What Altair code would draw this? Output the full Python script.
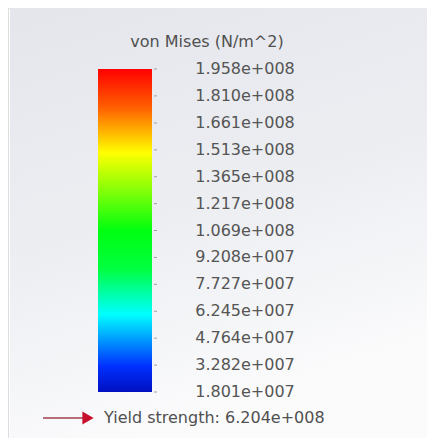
import altair as alt
import pandas as pd

# ---- data ----
title_text = "von Mises (N/m^2)"
tick_values = [1.958e8, 1.810e8, 1.661e8, 1.513e8, 1.365e8, 1.217e8, 1.069e8,
               9.208e7, 7.727e7, 6.245e7, 4.764e7, 3.282e7, 1.801e7]
tick_labels = ["1.958e+008", "1.810e+008", "1.661e+008", "1.513e+008", "1.365e+008",
               "1.217e+008", "1.069e+008", "9.208e+007", "7.727e+007", "6.245e+007",
               "4.764e+007", "3.282e+007", "1.801e+007"]
yield_text = "Yield strength: 6.204e+008"
vmin, vmax = 1.801e7, 1.958e8

# gradient stops (top -> bottom)
stop_offsets = [0.0, 0.12, 0.26, 0.50, 0.62, 0.76, 0.92, 1.0]
stop_colors = ["#ff0000", "#ff6000", "#ffff00", "#00ff10", "#00ff40", "#00ffff", "#0030ff", "#0010c0"]

W, H = 419, 430
yscale = alt.Scale(domain=[vmin, vmax], range=[384, 61])

ticks_df = pd.DataFrame({"v": tick_values, "label": tick_labels})
bar_df = pd.DataFrame({"lo": [vmin], "hi": [vmax]})
one = pd.DataFrame({"a": [0]})

bg = alt.Chart(one).mark_rect(
    fill=alt.LinearGradient(gradient="linear", x1=0, y1=0, x2=0.3, y2=1,
                            stops=[alt.GradientStop(offset=0, color="#e4e6ec"),
                                   alt.GradientStop(offset=0.55, color="#eceef2"),
                                   alt.GradientStop(offset=1, color="#fbfbfc")])
).encode(x=alt.value(2), x2=alt.value(W), y=alt.value(0), y2=alt.value(H))

bar = alt.Chart(bar_df).mark_rect(
    fill=alt.LinearGradient(gradient="linear", x1=0, y1=0, x2=0, y2=1,
                            stops=[alt.GradientStop(offset=o, color=c)
                                   for o, c in zip(stop_offsets, stop_colors)])
).encode(
    x=alt.value(90), x2=alt.value(144),
    y=alt.Y("hi:Q", scale=yscale, axis=None), y2="lo:Q",
)

tks = alt.Chart(ticks_df).mark_rule(color="#a0a0a0", strokeWidth=1).encode(
    x=alt.value(146), x2=alt.value(149),
    y=alt.Y("v:Q", scale=yscale, axis=None),
)

labels = alt.Chart(ticks_df).mark_text(
    font="DejaVu Sans", fontSize=16, color="#555555", align="center", baseline="middle"
).encode(
    x=alt.value(237),
    y=alt.Y("v:Q", scale=yscale, axis=None),
    text="label:N",
)

title = alt.Chart(pd.DataFrame({"t": [title_text]})).mark_text(
    font="DejaVu Sans", fontSize=16, color="#505050", align="center", baseline="middle"
).encode(x=alt.value(199), y=alt.value(34), text="t:N")

arrow_line = alt.Chart(one).mark_rule(color="#a04050", strokeWidth=1.3).encode(
    x=alt.value(35), x2=alt.value(76), y=alt.value(410))

arrow_head = alt.Chart(one).mark_point(
    shape="triangle-right", filled=True, color="#c8102e", size=170, opacity=1
).encode(x=alt.value(80), y=alt.value(410))

yield_lbl = alt.Chart(pd.DataFrame({"t": [yield_text]})).mark_text(
    font="DejaVu Sans", fontSize=16, color="#505050", align="left", baseline="middle"
).encode(x=alt.value(96), y=alt.value(410), text="t:N")

chart = alt.layer(bg, bar, tks, labels, title, arrow_line, arrow_head, yield_lbl).properties(
    width=W, height=H, autosize=alt.AutoSizeParams(type="none"), padding=0
).configure_view(stroke=None).configure(background="white")

chart.save("out.html", embed_options={"renderer": "svg", "actions": False})
